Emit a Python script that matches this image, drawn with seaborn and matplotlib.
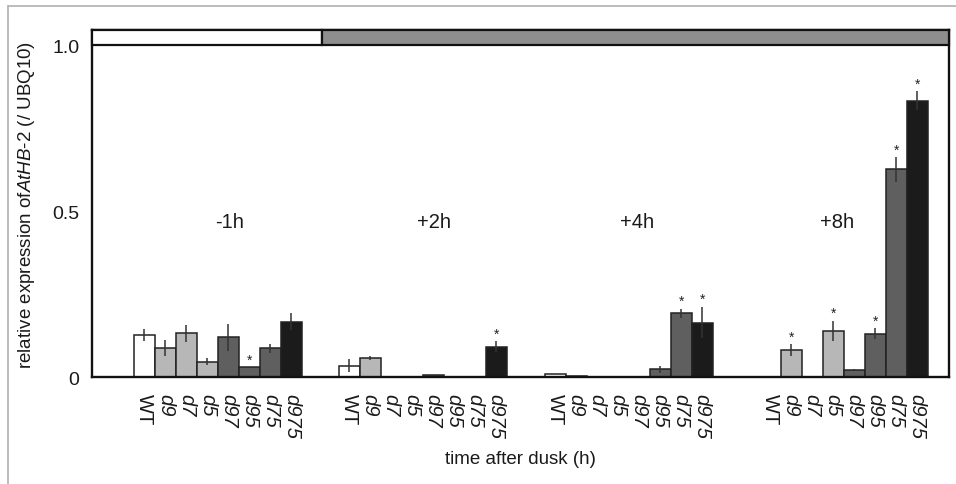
import numpy as np
import pandas as pd
import matplotlib
matplotlib.use("Agg")
import matplotlib.pyplot as plt
import seaborn as sns
from matplotlib.patches import Rectangle
from matplotlib.lines import Line2D

# ---- data ----
times = ["-1h", "+2h", "+4h", "+8h"]
genotypes = ["WT", "d9", "d7", "d5", "d97", "d95", "d75", "d975"]

expr_m1h = [0.127, 0.087, 0.132, 0.047, 0.120, 0.030, 0.087, 0.168]
err_m1h = [0.019, 0.024, 0.026, 0.011, 0.042, 0.000, 0.014, 0.027]
star_m1h = [0, 0, 0, 0, 0, 1, 0, 0]

expr_p2h = [0.035, 0.059, 0.0, 0.0, 0.007, 0.0, 0.0, 0.092]
err_p2h = [0.019, 0.006, 0.0, 0.0, 0.0, 0.0, 0.0, 0.017]
star_p2h = [0, 0, 0, 0, 0, 0, 0, 1]

expr_p4h = [0.011, 0.004, 0.0, 0.0, 0.0, 0.024, 0.193, 0.165]
err_p4h = [0.0, 0.0, 0.0, 0.0, 0.0, 0.011, 0.014, 0.048]
star_p4h = [0, 0, 0, 0, 0, 0, 1, 1]

expr_p8h = [0.0, 0.082, 0.0, 0.140, 0.022, 0.131, 0.626, 0.833]
err_p8h = [0.0, 0.019, 0.0, 0.031, 0.003, 0.016, 0.037, 0.029]
star_p8h = [0, 1, 0, 1, 0, 1, 1, 1]

yticks = [0, 0.25, 0.5, 0.75, 1.0]
ytick_labels = ["0", "", "0.5", "", "1.0"]

# ---- layout constants ----
group_offsets = [0.0, 9.76, 19.57, 29.81]
label_x = [4.05, 13.8, 23.45, 33.0]
palette = {"WT": "#ffffff", "d9": "#b7b7b7", "d7": "#b7b7b7", "d5": "#b7b7b7",
           "d97": "#5f5f5f", "d95": "#5f5f5f", "d75": "#5f5f5f", "d975": "#1b1b1b"}

expr = [expr_m1h, expr_p2h, expr_p4h, expr_p8h]
errs = [err_m1h, err_p2h, err_p4h, err_p8h]
stars = [star_m1h, star_p2h, star_p4h, star_p8h]

rows = []
for gi, t in enumerate(times):
    for i, g in enumerate(genotypes):
        rows.append({"time": t, "genotype": g, "pos": group_offsets[gi] + i,
                     "value": expr[gi][i], "err": errs[gi][i], "star": stars[gi][i]})
df = pd.DataFrame(rows)

sns.set_style("white")
plt.rcParams["font.family"] = ["Liberation Sans", "DejaVu Sans"]
plt.rcParams["mathtext.fontset"] = "custom"
plt.rcParams["mathtext.it"] = "Liberation Sans:italic"
plt.rcParams["mathtext.rm"] = "Liberation Sans"
for k in ["text.color", "axes.labelcolor", "xtick.color", "ytick.color"]:
    plt.rcParams[k] = "#1a1a1a"

fig = plt.figure(figsize=(9.56, 4.85), dpi=100)
ax = fig.add_axes([92 / 956, 1 - 378.3 / 485, (949 - 92) / 956, (378.3 - 31) / 485])

sns.barplot(data=df, x="pos", y="value", hue="genotype", palette=palette,
            native_scale=True, dodge=False, width=1.0, errorbar=None,
            edgecolor="#222222", linewidth=1.1, saturation=1, legend=False, ax=ax)

m = df["err"] > 0
ax.vlines(df.loc[m, "pos"], df.loc[m, "value"] - df.loc[m, "err"],
          df.loc[m, "value"] + df.loc[m, "err"], color="#333333", lw=1.1, zorder=4)

for _, r in df[df["star"] == 1].iterrows():
    ax.text(r["pos"], r["value"] + r["err"] + 0.022, "*", ha="center", va="center",
            fontsize=10, color="#222222")

ax.set_xlim(-2.5, 38.33)
ax.set_ylim(0, 1.046)

# day/night band
ax.add_patch(Rectangle((-2.5, 1.0), 8.45 + 2.5, 0.046, facecolor="white",
                       edgecolor="#111111", lw=1.6, zorder=5, clip_on=False))
ax.add_patch(Rectangle((8.45, 1.0), 38.33 - 8.45, 0.046, facecolor="#8e8e8e",
                       edgecolor="#111111", lw=1.6, zorder=5, clip_on=False))

for gi, t in enumerate(times):
    ax.text(label_x[gi], 0.47, t, ha="center", va="center", fontsize=14.5)

ax.set_xticks(df["pos"])
ax.set_xticklabels(df["genotype"], rotation=-90, fontsize=14.5, va="top", ha="center")
for lbl in ax.get_xticklabels():
    if lbl.get_text() != "WT":
        lbl.set_style("italic")
ax.tick_params(axis="x", length=0, pad=11)

ax.set_yticks(yticks)
ax.set_yticklabels(ytick_labels, fontsize=14)
ax.tick_params(axis="y", direction="in", length=7, width=1.0, color="#333333", pad=9)

for s in ["left", "bottom", "right", "top"]:
    ax.spines[s].set_visible(True)
    ax.spines[s].set_color("#111111")
    ax.spines[s].set_linewidth(1.7)

ax.set_xlabel("time after dusk (h)", fontsize=13.5)
ax.set_ylabel(r"relative expression of$\mathit{AtHB}$-2 (/ UBQ10)", fontsize=13.5)
ax.yaxis.set_label_coords(-55 / 857, 0.5)
ax.xaxis.set_label_coords(0.5, -(451 - 378.3) / (378.3 - 31))

# outer frame lines
fig.add_artist(Line2D([8 / 956, 1], [1 - 7 / 485, 1 - 7 / 485], transform=fig.transFigure,
                      color="#b0b0b0", lw=1.2))
fig.add_artist(Line2D([8 / 956, 8 / 956], [0, 1 - 7 / 485], transform=fig.transFigure,
                      color="#b0b0b0", lw=1.2))

fig.savefig("out.png", dpi=100)
